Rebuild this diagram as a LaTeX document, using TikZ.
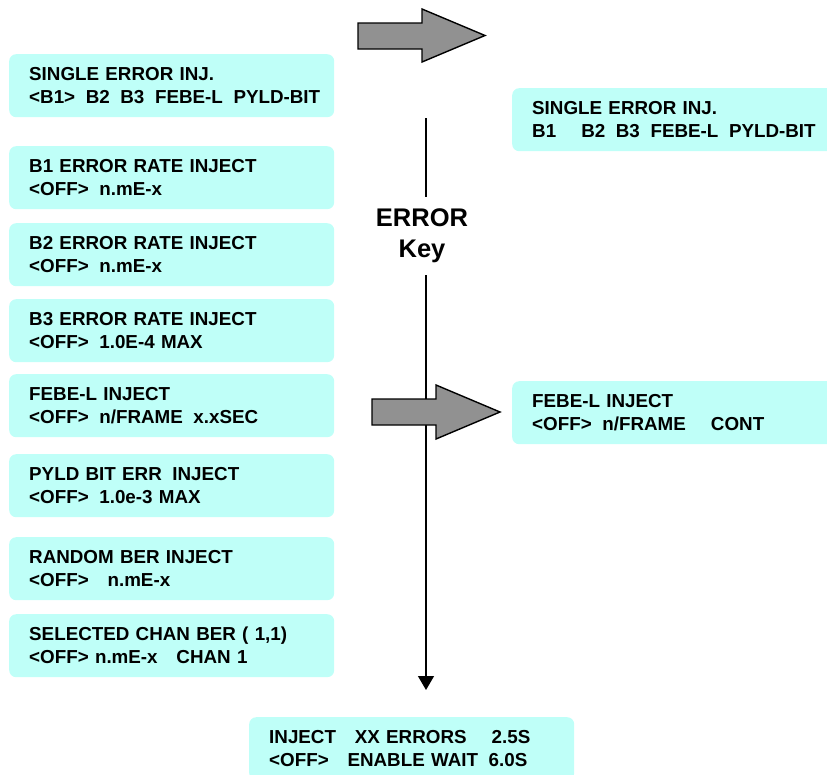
\documentclass[tikz,border=0pt]{standalone}
\usepackage{fontspec}
\setmainfont{Liberation Sans}
\usetikzlibrary{arrows.meta}
\definecolor{panel}{RGB}{191,255,248}
\definecolor{blockgray}{RGB}{145,145,145}
% panel text: bold, no line breaks at hyphens
\newcommand\lcdfont{\bfseries\fontsize{18.8}{23}\selectfont
  \hyphenpenalty=10000 \exhyphenpenalty=10000 \hbadness=10000 \hfuzz=100pt }
% the double blank between display fields (a kern, so no line break there)
\newcommand\fgap{\kern10.6pt\relax}
\tikzset{
  lcd/.style={fill=panel, draw=none, rounded corners=7pt, anchor=north west,
    minimum height=63pt, text width=285pt, inner xsep=20pt, inner ysep=0pt,
    align=left, font=\lcdfont},
  keylabel/.style={font=\bfseries\fontsize{25.5}{31}\selectfont, align=center, inner sep=0pt},
  blockarrow/.style={fill=blockgray, draw=black, line width=1.4pt, line join=miter},
  keyline/.style={line width=1.3pt}
}
\begin{document}
\begin{tikzpicture}[x=1pt,y=-1pt]
\useasboundingbox (0,0) rectangle (827,774);
\clip (0,0) rectangle (827,774);

% menu pages, left column
\node[lcd] (single)  at (9,54)  {SINGLE ERROR INJ.\\<B1>\fgap B2\fgap B3\fgap FEBE-L\fgap PYLD-BIT};
\node[lcd] (bone)    at (9,146) {B1 ERROR RATE INJECT\\<OFF>\fgap n.mE-x};
\node[lcd] (btwo)    at (9,223) {B2 ERROR RATE INJECT\\<OFF>\fgap n.mE-x};
\node[lcd] (bthree)  at (9,299) {B3 ERROR RATE INJECT\\<OFF>\fgap 1.0E-4 MAX};
\node[lcd] (febe)    at (9,374) {FEBE-L INJECT\\<OFF>\fgap n/FRAME\fgap x.xSEC};
\node[lcd] (pyld)    at (9,454) {PYLD BIT ERR\fgap INJECT\\<OFF>\fgap 1.0e-3 MAX};
\node[lcd] (random)  at (9,537) {RANDOM BER INJECT\\<OFF>~~~n.mE-x};
\node[lcd] (chan)    at (9,614) {SELECTED CHAN BER ( 1,1)\\<OFF> n.mE-x~~~CHAN 1};

% pages reached with the ERROR key
\node[lcd] (single2) at (512,88)  {SINGLE ERROR INJ.\\B1~~~~B2\fgap B3\fgap FEBE-L\fgap PYLD-BIT};
\node[lcd] (febe2)   at (512,381) {FEBE-L INJECT\\<OFF>\fgap n/FRAME~~~~CONT};
\node[lcd] (inject)  at (249,717) {INJECT~~~XX ERRORS~~~~2.5S\\<OFF>~~~ENABLE WAIT\fgap 6.0S};

% ERROR key and its flow line
\node[keylabel] (key) at (422,236) {ERROR\\Key};
\coordinate (ktop)  at (426,118);
\coordinate (kup)   at (426,197);
\coordinate (kdown) at (426,275);
\draw[keyline] (ktop) -- (kup);
\draw[keyline, -{Triangle[width=16pt,length=14pt]}, shorten >=27pt]
  (kdown) -- (kdown |- inject.north);

% block arrows
\draw[blockarrow] (358,23) -- (422,23) -- (422,9) -- (485,35.5) -- (422,62) -- (422,49) -- (358,49) -- cycle;
\draw[blockarrow] (372,399) -- (436,399) -- (436,385) -- (500,412) -- (436,439) -- (436,425) -- (372,425) -- cycle;
\end{tikzpicture}
\end{document}
